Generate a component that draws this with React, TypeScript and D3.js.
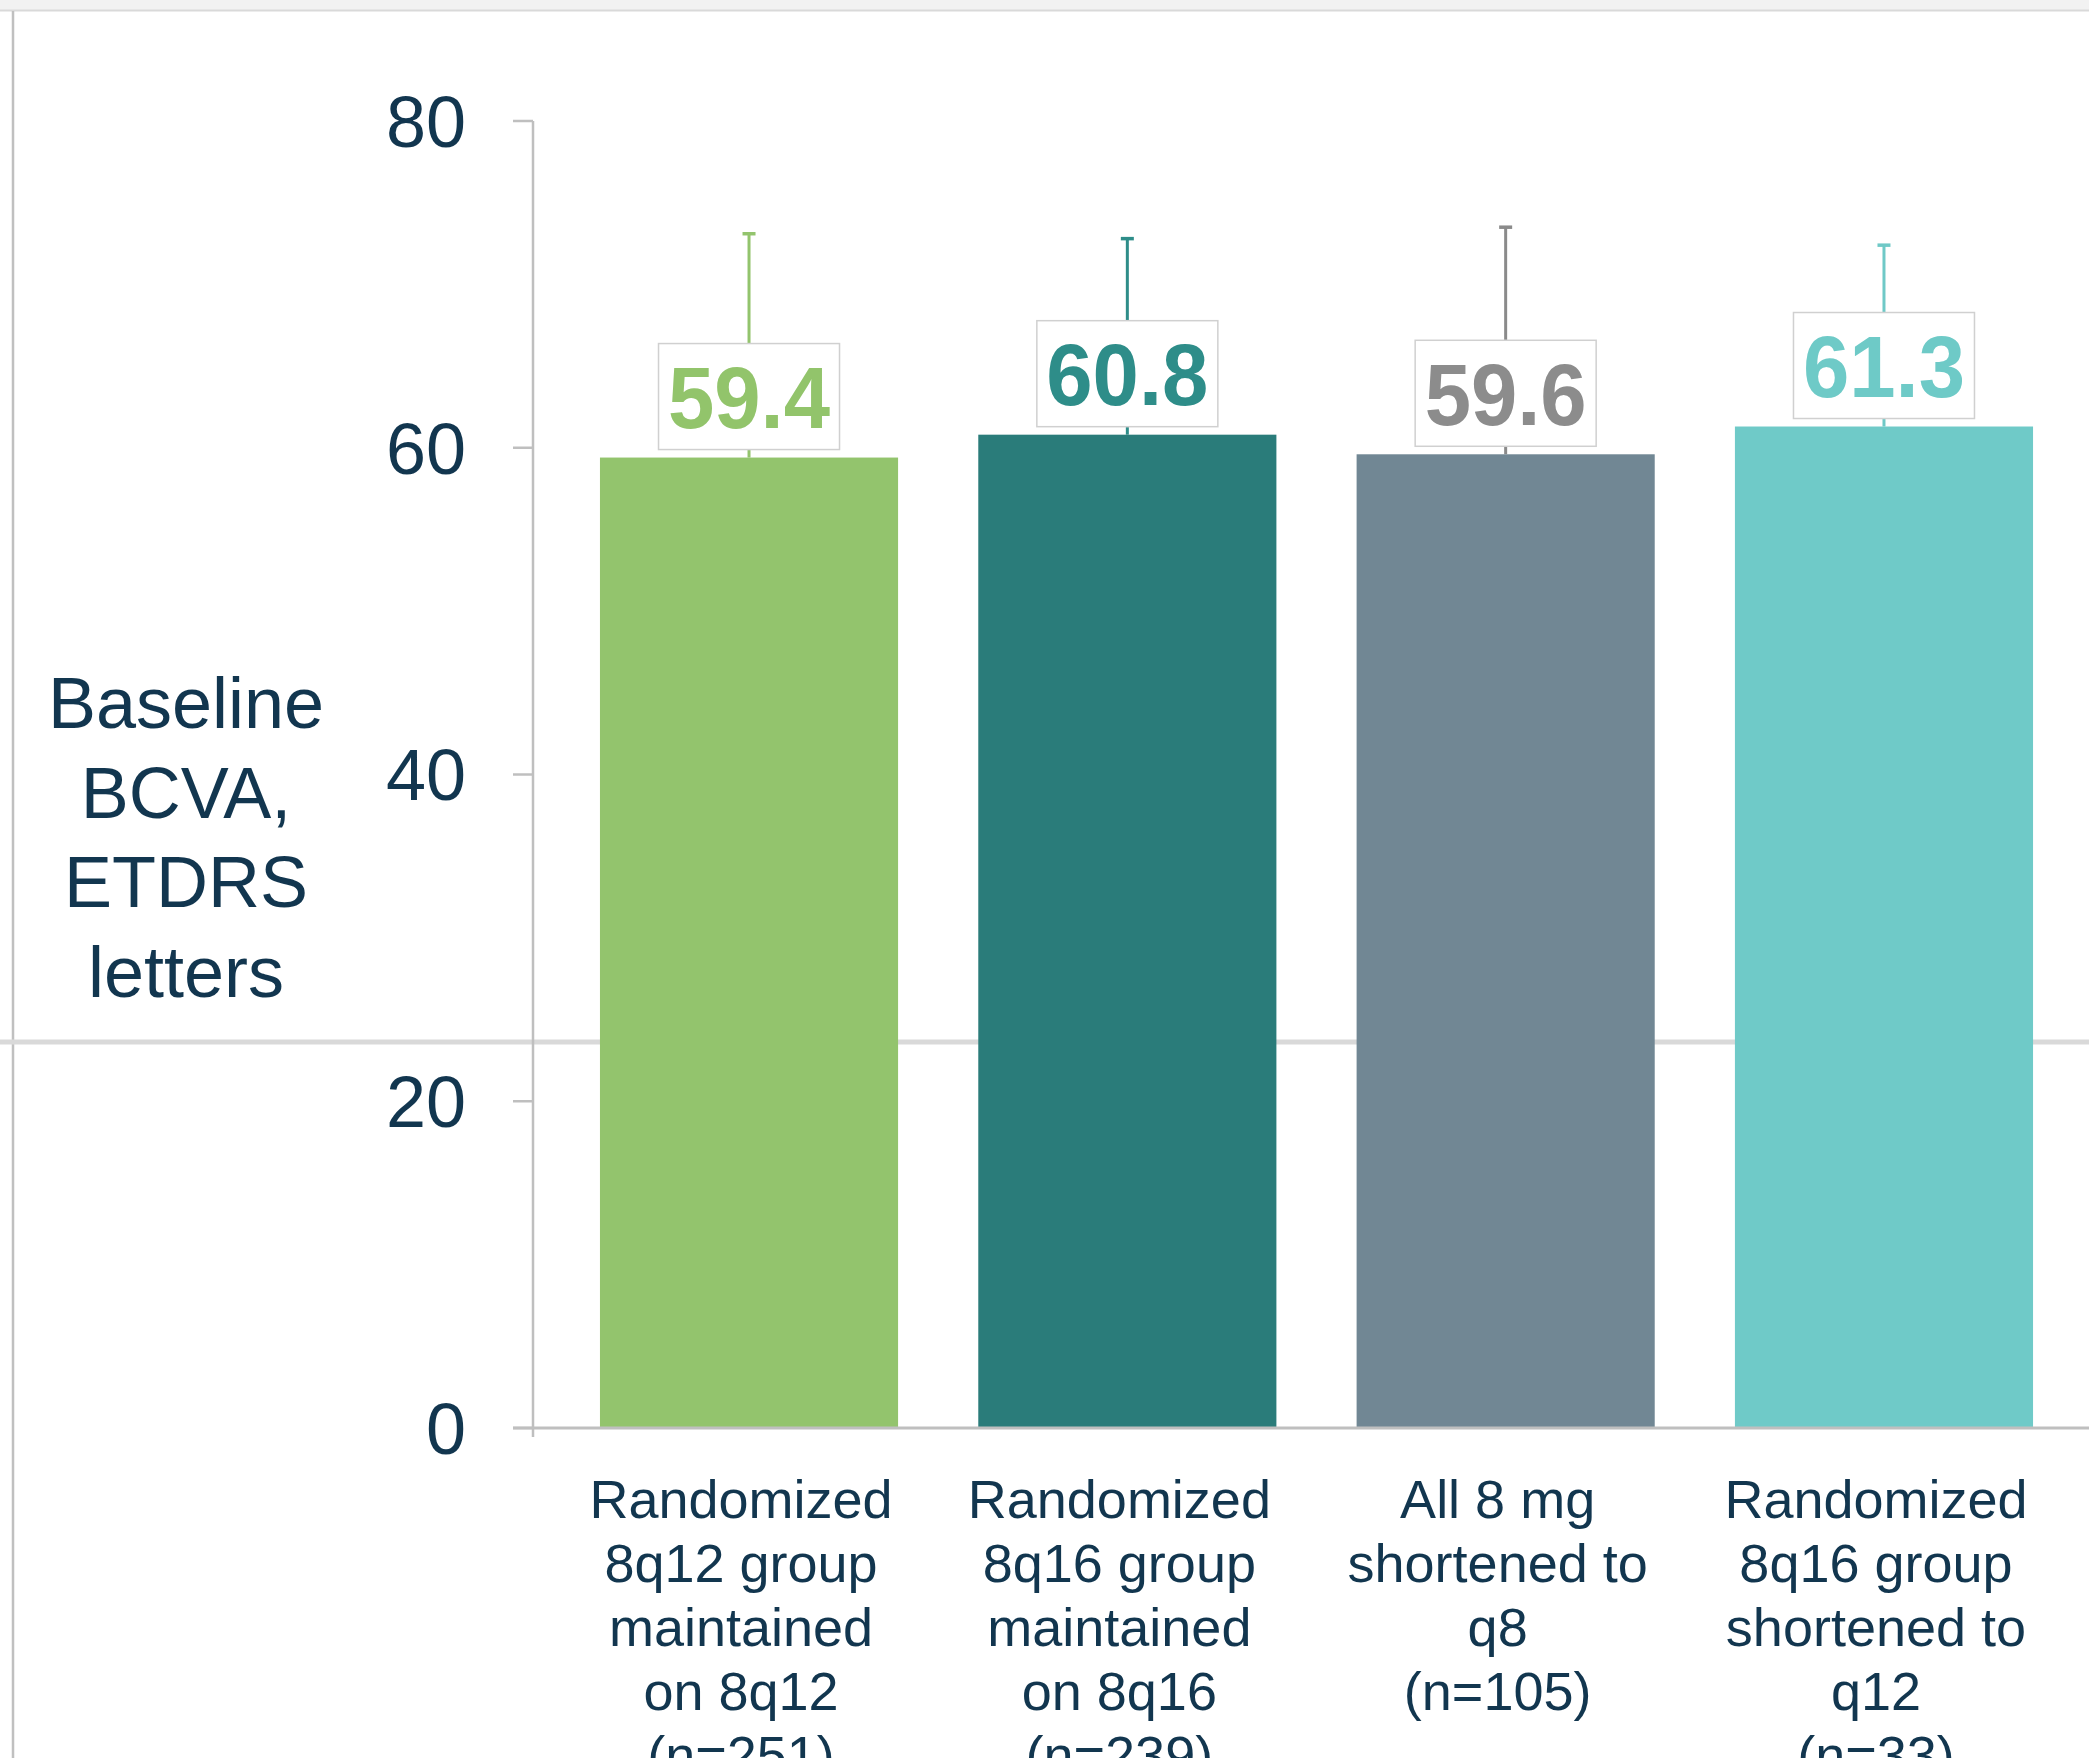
import React from "react";
import * as d3 from "d3";

const categories = ["A", "B", "C", "D"];
const categoryLines = [
  ["Randomized", "8q12 group", "maintained", "on 8q12", "(n=251)"],
  ["Randomized", "8q16 group", "maintained", "on 8q16", "(n=239)"],
  ["All 8 mg", "shortened to", "q8", "(n=105)"],
  ["Randomized", "8q16 group", "shortened to", "q12", "(n=33)"],
];
const means = [59.4, 60.8, 59.6, 61.3];
const sds = [13.7, 12.0, 13.9, 11.1];
const valueLabels = ["59.4", "60.8", "59.6", "61.3"];
const yTicks = [0, 20, 40, 60, 80];
const yTitleLines = ["Baseline", "BCVA,", "ETDRS", "letters"];

const barColors = ["#93c46d", "#2a7c7a", "#718794", "#6fcac8"];
const textColors = ["#92c46b", "#2e8d89", "#8c8c8c", "#6ecac7"];
const errColors = ["#93c46d", "#2e8d89", "#8a8a8a", "#6fc9c7"];

const W = 2089;
const H = 1758;
const FONT = "'Liberation Sans', Arial, Helvetica, sans-serif";
const NAVY = "#12364f";
const AXIS = "#bfbfbf";

export default function App() {
  const y = d3.scaleLinear().domain([0, 80]).range([1428, 121]);
  const x = d3
    .scaleBand<string>()
    .domain(categories)
    .range([533, 2100])
    .paddingInner(0.212)
    .paddingOuter(0.177);
  const bw = x.bandwidth();
  const boxW = 181;
  const boxH = 106;
  const boxGap = 8;

  return (
    <svg
      width={W}
      height={H}
      viewBox={`0 0 ${W} ${H}`}
      style={{ position: "absolute", left: 0, top: 0, background: "#fff" }}
      fontFamily={FONT}
    >
      <rect x={0} y={0} width={W} height={H} fill="#ffffff" />
      {/* slide frame decorations */}
      <rect x={0} y={0} width={W} height={10} fill="#f2f2f2" />
      <line x1={0} x2={W} y1={10.5} y2={10.5} stroke="#d9d9d9" strokeWidth={2} />
      <line x1={13} x2={13} y1={11} y2={H} stroke="#c0c0c0" strokeWidth={2.5} />
      <line x1={0} x2={W} y1={1042} y2={1042} stroke="#d9d9d9" strokeWidth={5} />

      {/* y axis */}
      <line x1={533} x2={533} y1={y(80)} y2={y(0) + 9} stroke={AXIS} strokeWidth={2.5} />
      {yTicks.map((t) => (
        <g key={t}>
          <line x1={513} x2={533} y1={y(t)} y2={y(t)} stroke={AXIS} strokeWidth={2.5} />
          <text
            x={466}
            y={y(t)}
            dy="0.36em"
            textAnchor="end"
            fontSize={72}
            fill={NAVY}
          >
            {t}
          </text>
        </g>
      ))}
      {yTitleLines.map((l, i) => (
        <text
          key={l}
          x={186}
          y={728 + i * 89.5}
          textAnchor="middle"
          fontSize={72}
          fill={NAVY}
        >
          {l}
        </text>
      ))}

      {/* bars */}
      {categories.map((c, i) => {
        const x0 = x(c)!;
        const cx = x0 + bw / 2;
        const top = y(means[i]);
        const capY = y(means[i] + sds[i]);
        const boxBottom = top - boxGap;
        const boxTop = boxBottom - boxH;
        return (
          <g key={c}>
            <line
              x1={cx}
              x2={cx}
              y1={top}
              y2={capY}
              stroke={errColors[i]}
              strokeWidth={3}
            />
            <line
              x1={cx - 6.5}
              x2={cx + 6.5}
              y1={capY}
              y2={capY}
              stroke={errColors[i]}
              strokeWidth={3.5}
            />
            <rect
              x={x0}
              y={top}
              width={bw}
              height={y(0) - top}
              fill={barColors[i]}
            />
            <rect
              x={cx - boxW / 2}
              y={boxTop}
              width={boxW}
              height={boxH}
              fill="#ffffff"
              stroke="#d0d0d0"
              strokeWidth={1.5}
            />
            <text
              x={cx}
              y={boxTop + boxH / 2}
              dy="0.36em"
              textAnchor="middle"
              fontSize={88}
              fontWeight="bold"
              fill={textColors[i]}
              textLength={162}
              lengthAdjust="spacingAndGlyphs"
            >
              {valueLabels[i]}
            </text>
          </g>
        );
      })}

      {/* x axis */}
      <line x1={513} x2={W} y1={y(0)} y2={y(0)} stroke={AXIS} strokeWidth={2.8} />

      {/* category labels */}
      {categories.map((c, i) => {
        const cx = x(c)! + bw / 2 - 8;
        return (
          <text key={c} textAnchor="middle" fontSize={54} fill={NAVY}>
            {categoryLines[i].map((l, j) => (
              <tspan key={j} x={cx} y={1518 + j * 64}>
                {l}
              </tspan>
            ))}
          </text>
        );
      })}
    </svg>
  );
}
